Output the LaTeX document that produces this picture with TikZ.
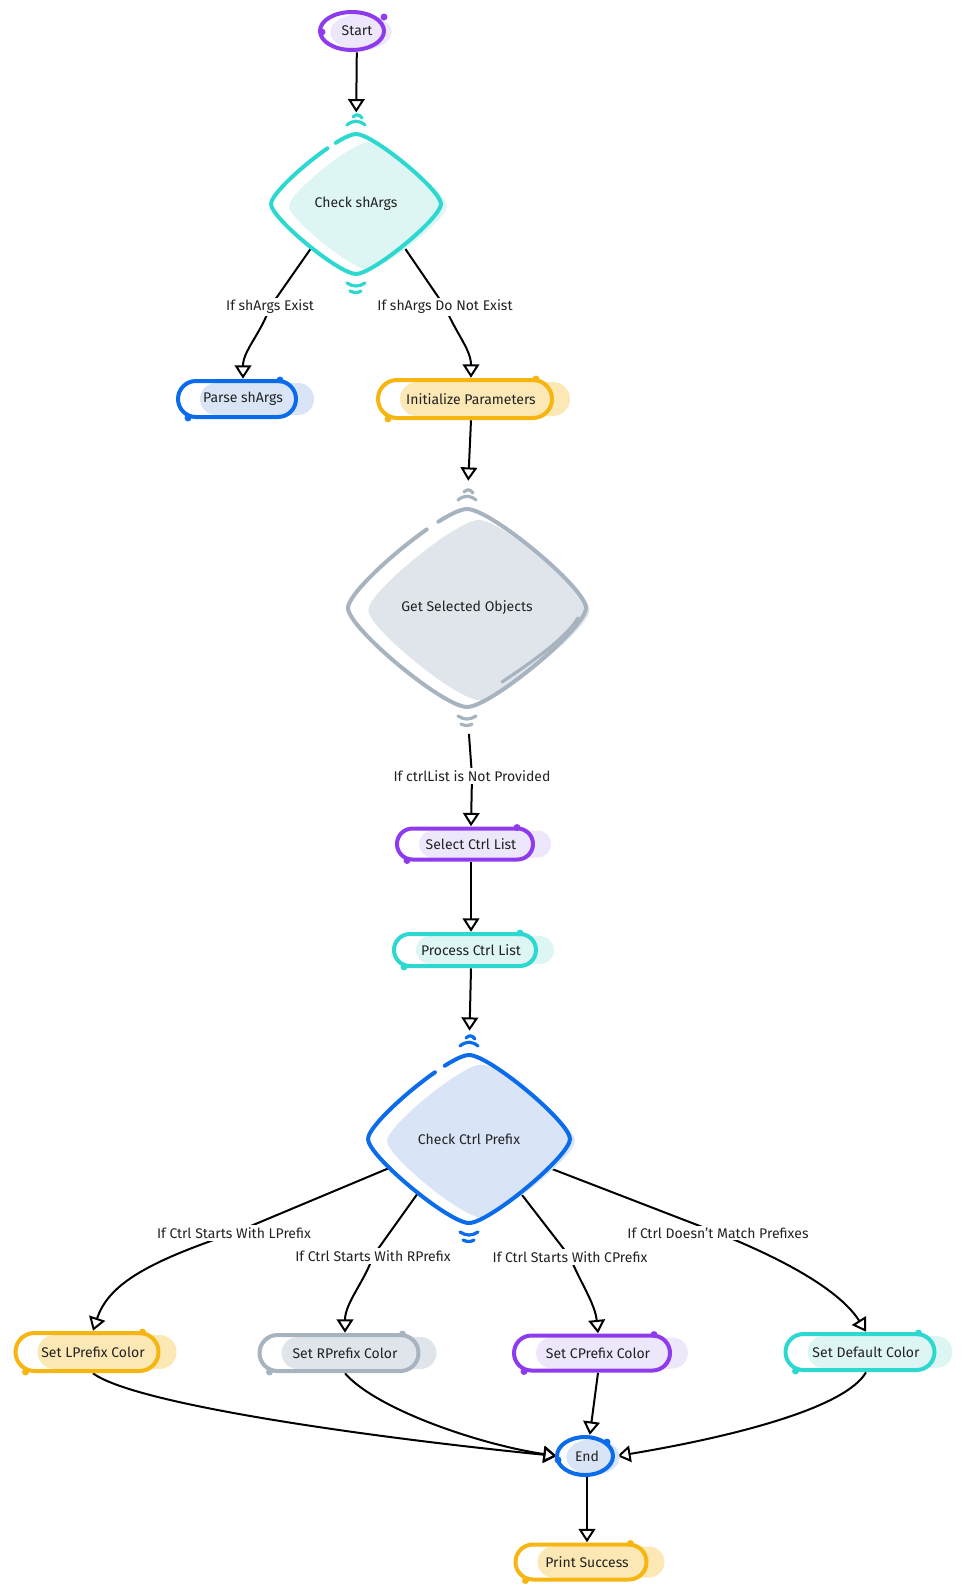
\documentclass[tikz,border=0pt]{standalone}
\usepackage{fontspec}
\setmainfont{Fira Sans}
\usetikzlibrary{arrows.meta,calc,shapes.geometric}
\pgfdeclarelayer{bg}
\pgfsetlayers{bg,main}
\definecolor{cpur}{HTML}{8E3BEE}
\definecolor{fpur}{HTML}{EEE6FB}
\definecolor{ccya}{HTML}{2CD8D0}
\definecolor{fcya}{HTML}{DDF5F3}
\definecolor{cblu}{HTML}{0B6CEB}
\definecolor{fblu}{HTML}{D9E5F7}
\definecolor{cyel}{HTML}{F7B512}
\definecolor{fyel}{HTML}{FCE8B4}
\definecolor{cgry}{HTML}{A8B3C0}
\definecolor{fgry}{HTML}{E0E5EB}
\definecolor{txt}{HTML}{222222}
\tikzset{
 boxtext/.style={inner sep=0pt, text=txt, font=\fontsize{10.5}{12}\selectfont},
 lbl/.style={fill=white, inner sep=1.5pt, text=txt, font=\fontsize{10.5}{12}\selectfont},
 arr/.style={line width=1.5pt, -{Triangle[open, length=10pt, width=12.5pt, line width=1.5pt]}},
 outl/.style={line width=3pt, line cap=round, line join=round},
 tipmark/.style={line width=2.4pt, line cap=round},
 dpath/.style n args={4}{insert path={({#1},{#2-#4}) .. controls ({#1+0.2*#3},{#2-#4}) and ({#1+#3},{#2-0.2*#4}) .. ({#1+#3},{#2}) .. controls ({#1+#3},{#2+0.2*#4}) and ({#1+0.2*#3},{#2+#4}) .. ({#1},{#2+#4}) .. controls ({#1-0.2*#3},{#2+#4}) and ({#1-#3},{#2+0.2*#4}) .. ({#1-#3},{#2}) .. controls ({#1-#3},{#2-0.2*#4}) and ({#1-0.2*#3},{#2-#4}) .. ({#1},{#2-#4})}},
}
% name, x, y, w, h, stroke, fill, text
\newcommand\mypill[8]{%
 \fill[#7, rounded corners={(#5-4)*0.375pt}] ({#2-#4/2+16}, {#3-#5/2+2}) rectangle ({#2+#4/2+12}, {#3+#5/2-2});
 \draw[#6, outl, rounded corners={#5*0.375pt}] ({#2-#4/2-6}, {#3-#5/2}) rectangle ({#2+#4/2-6}, {#3+#5/2});
 \fill[#6] ({#2+#4/2-22}, {#3-#5/2-1}) circle (2.6pt);
 \fill[#6] ({#2-#4/2+4}, {#3+#5/2+1}) circle (2.6pt);
 \node[boxtext, minimum width={#4*0.75pt}, minimum height={(#5+4)*0.75pt}] (#1) at (#2,#3) {#8};
}
% name, x, y, hw, hh, stroke, fill, text
\newcommand\mydiam[8]{%
 \pgfmathsetmacro\dOn{3.72*0.75*1.02*veclen(#4,#5)}%
 \pgfmathsetmacro\dOff{0.09*0.75*veclen(#4,#5)}%
 \fill[white, dpath={#2}{#3}{#4}{#5}];
 \fill[#7, dpath={#2+12}{#3+2}{#4*0.93}{#5*0.91}];
 \draw[#6, outl, dash pattern=on \dOn pt off \dOff pt on 400pt, dpath={#2}{#3}{#4}{#5}];
 \draw[#6, tipmark] ({#2-9},{#3-#5-9}) .. controls ({#2-3},{#3-#5-14}) and ({#2+3},{#3-#5-14}) .. ({#2+9},{#3-#5-9});
 \draw[#6, tipmark] ({#2-3},{#3-#5-17}) .. controls ({#2},{#3-#5-20}) and ({#2+3},{#3-#5-20}) .. ({#2+6},{#3-#5-16});
 \draw[#6, tipmark] ({#2-9},{#3+#5+9}) .. controls ({#2-3},{#3+#5+13}) and ({#2+3},{#3+#5+13}) .. ({#2+9},{#3+#5+9});
 \draw[#6, tipmark] ({#2-6},{#3+#5+17}) .. controls ({#2-2},{#3+#5+19}) and ({#2+2},{#3+#5+19}) .. ({#2+5},{#3+#5+17});
 \node[boxtext, minimum width={2*#4*0.75pt}, minimum height={2*#5*0.75pt}] (#1) at (#2,#3) {#8};
}
\begin{document}
\begin{tikzpicture}[x=0.75pt, y=-0.75pt]
\useasboundingbox (0,0) rectangle (963,1594);
% Start
\fill[fpur] (361,32) ellipse [x radius=23pt, y radius=13.5pt];
\draw[cpur, outl] (352,31) ellipse [x radius=24pt, y radius=14.25pt];
\fill[cpur] (322,32) circle (2.6pt);
\fill[cpur] (384,17) circle (2.6pt);
\node[boxtext, ellipse, minimum width=48pt, minimum height=31.5pt] (start) at (357,31) {Start};
% decisions
\mydiam{chk}{356}{204}{85}{70}{ccya}{fcya}{Check shArgs}
\mydiam{gso}{467}{608}{119}{99}{cgry}{fgry}{Get Selected Objects}
\draw[cgry, tipmark] (578,618) .. controls (566,638) and (532,662) .. (502,682);
\mydiam{ccp}{469}{1139}{101}{84}{cblu}{fblu}{Check Ctrl Prefix}
% process boxes
\mypill{parse}{243}{399}{118}{36}{cblu}{fblu}{Parse shArgs}
\mypill{init}{471}{399}{174}{38}{cyel}{fyel}{Initialize Parameters}
\mypill{sel}{471}{844}{136}{31}{cpur}{fpur}{Select Ctrl List}
\mypill{proc}{471}{950}{142}{32}{ccya}{fcya}{Process Ctrl List}
\mypill{lp}{93}{1352}{143}{38}{cyel}{fyel}{Set LPrefix Color}
\mypill{rp}{345}{1353}{159}{36}{cgry}{fgry}{Set RPrefix Color}
\mypill{cp}{598}{1353}{156}{35}{cpur}{fpur}{Set CPrefix Color}
\mypill{dp}{866}{1352}{149}{36}{ccya}{fcya}{Set Default Color}
\mypill{pr}{587}{1562}{131}{35}{cyel}{fyel}{Print Success}
% End
\fill[fblu] (593,1457) ellipse [x radius=20pt, y radius=13.5pt];
\draw[cblu, outl] (585,1456) ellipse [x radius=21pt, y radius=14.25pt];
\fill[cblu] (558,1460) circle (2.6pt);
\fill[cblu] (607,1442) circle (2.6pt);
\node[boxtext, ellipse, minimum width=45pt, minimum height=31.5pt] (end) at (587,1456) {End};
% labels
\node[lbl] (l1) at (270,307) {If shArgs Exist};
\node[lbl] (l2) at (445,307) {If shArgs Do Not Exist};
\node[lbl] (l3) at (472,776) {If ctrlList is Not Provided};
\node[lbl] (lL) at (234,1233) {If Ctrl Starts With LPrefix};
\node[lbl] (lR) at (373,1256) {If Ctrl Starts With RPrefix};
\node[lbl] (lC) at (570,1257) {If Ctrl Starts With CPrefix};
\node[lbl] (lD) at (718,1233) {If Ctrl Doesn't Match Prefixes};
% connectors
\begin{pgfonlayer}{bg}
\draw[arr, shorten >=16pt] (start) -- (chk.north);
\draw[arr] ($(chk.south)!0.47!(chk.west)$) -- (l1.center) .. controls ($(l1.center)+(-10,28)$) and ($(parse.north)+(0,-28)$) .. (parse.north);
\draw[arr] ($(chk.south)!0.5!(chk.east)$) -- (l2.center) .. controls ($(l2.center)+(12,28)$) and ($(init.north)+(0,-28)$) .. (init.north);
\draw[arr, shorten >=21pt] (init.south) -- (gso.north);
\draw[arr, shorten <=20pt] (gso.south) -- (l3.center) -- (sel.north);
\draw[arr] (sel.south) -- (proc.north);
\draw[arr, shorten >=18pt] (proc.south) -- (ccp.north);
\draw[arr] ($(ccp.west)!0.3!(ccp.south)$) -- (lL.center) .. controls ($(lL.center)+(-90,30)$) and ($(lp.north)+(15,-45)$) .. (lp.north);
\draw[arr] ($(ccp.south)!0.45!(ccp.west)$) -- (lR.center) .. controls ($(lR.center)+(-8,25)$) and ($(rp.north)+(0,-30)$) .. (rp.north);
\draw[arr] ($(ccp.south)!0.45!(ccp.east)$) -- (lC.center) .. controls ($(lC.center)+(10,25)$) and ($(cp.north)+(-3,-30)$) .. (cp.north);
\draw[arr] ($(ccp.east)!0.3!(ccp.south)$) -- (lD.center) .. controls ($(lD.center)+(70,28)$) and ($(dp.north)+(-25,-40)$) .. (dp.north);
\draw[arr] (lp.south) .. controls ($(lp.south)+(40,30)$) and ($(end.west)+(-200,-20)$) .. (end.west);
\draw[arr] (rp.south) .. controls ($(rp.south)+(30,35)$) and ($(end.west)+(-80,-12)$) .. (end.west);
\draw[arr] (cp.south) -- (end);
\draw[arr] (dp.south) .. controls ($(dp.south)+(-20,35)$) and ($(end.east)+(120,-20)$) .. (end.east);
\draw[arr] (end) -- (pr.north);
\end{pgfonlayer}
\end{tikzpicture}
\end{document}
